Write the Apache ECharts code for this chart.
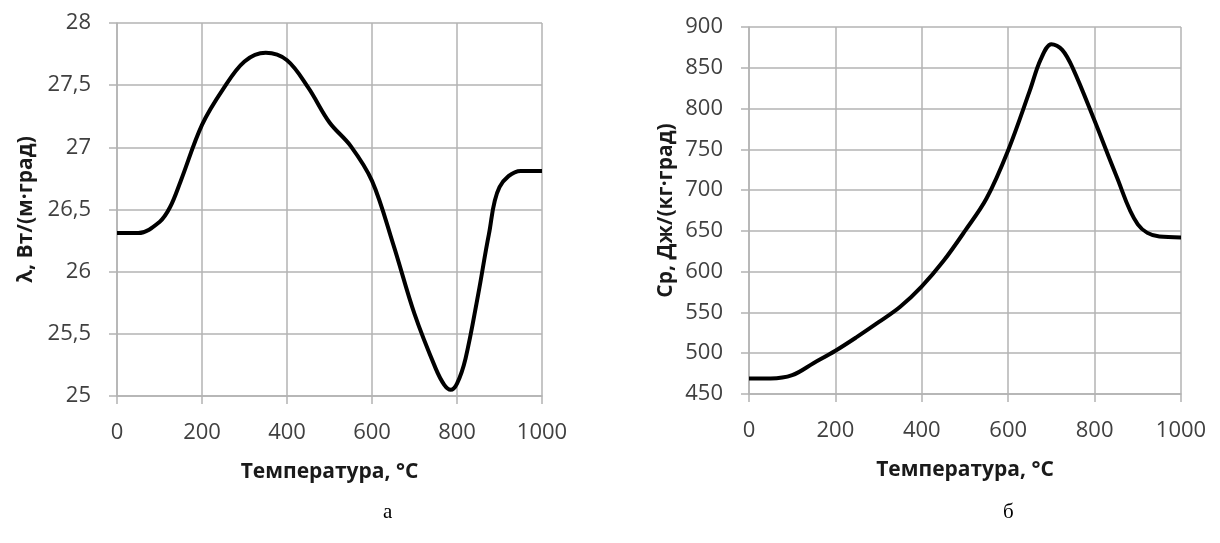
<!DOCTYPE html>
<html>
<head>
<meta charset="utf-8">
<script src="https://cdn.jsdelivr.net/npm/echarts@6/dist/echarts.min.js"></script>
<style>
  html, body { margin: 0; padding: 0; background: #fff; }
  #chart { width: 1220px; height: 543px; }
</style>
</head>
<body>
<div id="chart"></div>
<script>
// температура, °C
var tempLambda = [0, 50, 100, 125, 150, 200, 250, 300, 350, 400, 450, 500, 550, 600, 650, 700, 750, 770, 785, 800, 820, 850, 875, 900, 950, 1000];
// теплопроводность, Вт/(м·град)
var lambdaVals = [26.31, 26.31, 26.40, 26.52, 26.73, 27.18, 27.47, 27.69, 27.76, 27.70, 27.48, 27.20, 27.01, 26.73, 26.22, 25.66, 25.22, 25.09, 25.05, 25.10, 25.30, 25.82, 26.30, 26.68, 26.81, 26.81];

var tempCp = [0, 50, 100, 150, 200, 250, 300, 350, 400, 450, 500, 550, 600, 650, 675, 700, 725, 750, 800, 850, 900, 950, 1000];
// теплоемкость, Дж/(кг·град)
var cpVals = [469, 469, 473, 488, 503, 520, 538, 557, 582, 613, 650, 690, 749, 822, 860, 879, 872, 849, 785, 718, 658, 643, 642];

var xTitle = 'Температура, °С';
var yTitleLeft = 'λ, Вт/(м·град)';
var yTitleRight = 'Ср, Дж/(кг·град)';
var captions = ['а', 'б'];

function pairs(xs, ys) {
    var out = [];
    for (var i = 0; i < xs.length; i++) {
        out.push([xs[i], ys[i]]);
    }
    return out;
}

var gridColor = '#b3b3b3';
var labelFont = { fontFamily: 'Open Sans', fontSize: 22, color: '#404040' };
var nameFont = { fontFamily: 'Open Sans', fontSize: 21, fontWeight: 'bold', color: '#1a1a1a' };

function xAxisOf(gridIndex) {
    return {
        type: 'value', gridIndex: gridIndex,
        min: 0, max: 1000, interval: 200,
        name: xTitle, nameLocation: 'middle', nameGap: 66,
        nameTextStyle: nameFont,
        axisLine: { show: true, lineStyle: { color: gridColor, width: 1.5 } },
        axisTick: { show: true, length: 8, lineStyle: { color: gridColor, width: 1.5 } },
        splitLine: { show: true, lineStyle: { color: gridColor, width: 1.5 } },
        axisLabel: Object.assign({ margin: 26, formatter: function (v) { return String(v); } }, labelFont)
    };
}

function yAxisOf(gridIndex, min, max, interval, name, gap, fmt) {
    return {
        type: 'value', gridIndex: gridIndex,
        min: min, max: max, interval: interval,
        name: name, nameLocation: 'middle', nameGap: gap,
        nameTextStyle: nameFont,
        axisLine: { show: true, lineStyle: { color: gridColor, width: 1.5 } },
        axisTick: { show: true, length: 8, lineStyle: { color: gridColor, width: 1.5 } },
        splitLine: { show: true, lineStyle: { color: gridColor, width: 1.5 } },
        axisLabel: Object.assign({ margin: 26, formatter: fmt }, labelFont)
    };
}

var chart = echarts.init(document.getElementById('chart'), null, { renderer: 'canvas' });
chart.setOption({
    animation: false,
    backgroundColor: '#fff',
    grid: [
        { left: 117, top: 23, width: 425, height: 373 },
        { left: 749, top: 27, width: 432, height: 367 }
    ],
    xAxis: [xAxisOf(0), xAxisOf(1)],
    yAxis: [
        yAxisOf(0, 25, 28, 0.5, yTitleLeft, 80, function (v) { return String(v).replace('.', ','); }),
        yAxisOf(1, 450, 900, 50, yTitleRight, 72, function (v) { return String(v); })
    ],
    series: [
        {
            type: 'line', xAxisIndex: 0, yAxisIndex: 0,
            data: pairs(tempLambda, lambdaVals),
            smooth: 0.35, symbol: 'none',
            lineStyle: { color: '#000', width: 4 }
        },
        {
            type: 'line', xAxisIndex: 1, yAxisIndex: 1,
            data: pairs(tempCp, cpVals),
            smooth: 0.35, symbol: 'none',
            lineStyle: { color: '#000', width: 4 }
        }
    ],
    graphic: [
        { type: 'text', left: 383, top: 502, style: { text: captions[0], font: '21px "Liberation Serif"', fill: '#000' } },
        { type: 'text', left: 1003, top: 502, style: { text: captions[1], font: '21px "Liberation Serif"', fill: '#000' } }
    ]
});
</script>
</body>
</html>
